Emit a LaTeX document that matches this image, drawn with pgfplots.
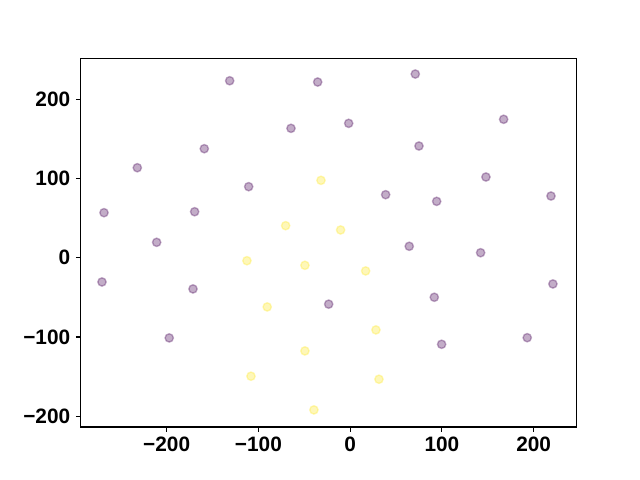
\documentclass[border=0pt]{standalone}
\usepackage{fontspec}
\setmainfont{Liberation Sans}
\usepackage{pgfplots}
\pgfplotsset{compat=1.18}
\definecolor{vpurple}{HTML}{440154}
\definecolor{vyellow}{HTML}{FDE725}
\begin{document}
\begin{tikzpicture}
\useasboundingbox (-58.1pt,-38.2pt) rectangle (402.7pt,307.4pt);
\begin{axis}[
  at={(0,0)}, anchor=south west,
  scale only axis,
  width=357.1pt, height=265.4pt,
  xmin=-293.7, xmax=246.9,
  ymin=-213.4, ymax=251.6,
  axis line style={line width=0.8pt},
  tick style={line width=0.8pt, black},
  tick align=outside,
  major tick length=3.5pt,
  xtick pos=left, ytick pos=left,
  xtick={-200,-100,0,100,200},
  xticklabels={−200,−100,0,100,200},
  ytick={-200,-100,0,100,200},
  yticklabels={−200,−100,0,100,200},
  ticklabel style={font=\fontsize{15}{17}\selectfont\bfseries},
  xticklabel style={yshift=-0.5pt},
  yticklabel style={xshift=-0.5pt},
]
\addplot[only marks, mark=*, mark size=3pt,
  mark options={fill=vpurple, draw=vpurple, line width=1pt, fill opacity=0.32, draw opacity=0.32}]
coordinates {
(-131.3,223.3) (-232.0,113.6) (-159.0,137.6) (-35.4,221.7) (-64.5,163.3)
(-1.6,169.6) (71.0,231.8) (167.3,174.7) (75.0,141.0) (148.0,101.9)
(-268.3,56.9) (-169.5,58.1) (-210.9,19.5) (-270.5,-30.5) (-171.3,-39.3)
(-110.6,89.7) (38.7,79.6) (64.4,14.5) (-23.4,-58.5) (94.3,71.2)
(218.9,77.9) (142.2,6.4) (91.7,-49.8) (221.0,-33.0) (-197.2,-101.1)
(99.7,-109.1) (193.0,-100.8)
};
\addplot[only marks, mark=*, mark size=3pt,
  mark options={fill=vyellow, draw=vyellow, line width=1pt, fill opacity=0.32, draw opacity=0.32}]
coordinates {
(-31.8,97.7) (-70.3,40.5) (-10.4,35.1) (-112.5,-3.7) (-49.3,-9.5)
(16.9,-16.6) (-90.4,-62.0) (28.1,-91.0) (-49.3,-117.5) (-108.1,-149.4)
(31.4,-153.2) (-39.5,-191.9)
};
\end{axis}
\end{tikzpicture}
\end{document}
